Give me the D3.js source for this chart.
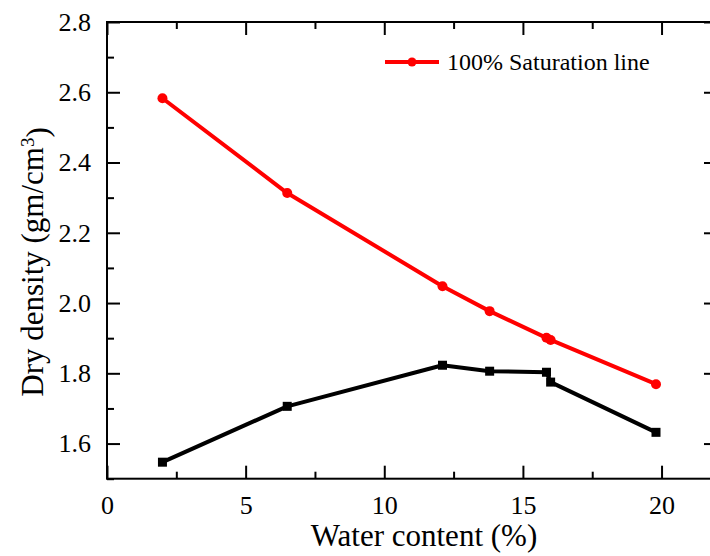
<!DOCTYPE html>
<html>
<head>
<meta charset="utf-8">
<script src="https://cdn.jsdelivr.net/npm/d3@7"></script>
<style>
  html, body { margin: 0; padding: 0; background: #fff; }
</style>
</head>
<body>
<svg id="chart" width="710" height="556"></svg>
<script>
// Water content (%) at each test point
const waterContent = [2.0, 6.5, 12.1, 13.8, 15.85, 16.0, 19.8];
// Dry density along the 100% saturation line (gm/cm3)
const saturationDensity = [2.583, 2.313, 2.048, 1.977, 1.901, 1.895, 1.769];
// Measured compaction dry density (gm/cm3)
const measuredDensity = [1.547, 1.706, 1.823, 1.806, 1.803, 1.775, 1.632];

const xMajorTicks = [0, 5, 10, 15, 20];
const xMinorTicks = [2.5, 7.5, 12.5, 17.5];
const yMajorTicks = [1.6, 1.8, 2.0, 2.2, 2.4, 2.6, 2.8];
const yMinorTicks = [1.5, 1.7, 1.9, 2.1, 2.3, 2.5, 2.7];

const legendLabel = "100% Saturation line";

const FONT = '"Liberation Serif"';

const svg = d3.select("#chart");
const plotLeft = 107, plotRight = 717, plotTop = 22, plotBottom = 478.7;

const x = d3.scaleLinear().domain([0, 22]).range([plotLeft, plotRight]);
const y = d3.scaleLinear().domain([1.5, 2.8]).range([plotBottom, plotTop]);

const major = 13, minor = 7;

function styleAxis(g) {
  g.attr("font-family", null).attr("font-size", null);
  g.select(".domain").remove();
  g.selectAll("line").attr("stroke", "#000").attr("stroke-width", 2);
  g.selectAll("text").style("font-family", FONT).style("font-size", "26px").attr("fill", "#000");
}

// bottom axis
svg.append("g").attr("transform", `translate(0,${plotBottom})`)
  .call(d3.axisBottom(x).tickValues(xMajorTicks).tickFormat(d3.format("d"))
    .tickSize(-major).tickSizeOuter(0).tickPadding(17))
  .call(styleAxis);
svg.append("g").attr("transform", `translate(0,${plotBottom})`)
  .call(d3.axisBottom(x).tickValues(xMinorTicks).tickFormat("").tickSize(-minor).tickSizeOuter(0))
  .call(styleAxis);
// top axis
svg.append("g").attr("transform", `translate(0,${plotTop})`)
  .call(d3.axisTop(x).tickValues(xMajorTicks).tickFormat("").tickSize(-major).tickSizeOuter(0))
  .call(styleAxis);
svg.append("g").attr("transform", `translate(0,${plotTop})`)
  .call(d3.axisTop(x).tickValues(xMinorTicks).tickFormat("").tickSize(-minor).tickSizeOuter(0))
  .call(styleAxis);
// left axis
svg.append("g").attr("transform", `translate(${plotLeft},0)`)
  .call(d3.axisLeft(y).tickValues(yMajorTicks).tickFormat(d3.format(".1f"))
    .tickSize(-major).tickSizeOuter(0).tickPadding(16))
  .call(styleAxis);
svg.append("g").attr("transform", `translate(${plotLeft},0)`)
  .call(d3.axisLeft(y).tickValues(yMinorTicks).tickFormat("").tickSize(-minor).tickSizeOuter(0))
  .call(styleAxis);
// right axis
svg.append("g").attr("transform", `translate(${plotRight},0)`)
  .call(d3.axisRight(y).tickValues(yMajorTicks).tickFormat("").tickSize(-major).tickSizeOuter(0))
  .call(styleAxis);
svg.append("g").attr("transform", `translate(${plotRight},0)`)
  .call(d3.axisRight(y).tickValues(yMinorTicks).tickFormat("").tickSize(-minor).tickSizeOuter(0))
  .call(styleAxis);

// frame
svg.append("rect")
  .attr("x", plotLeft).attr("y", plotTop)
  .attr("width", plotRight - plotLeft).attr("height", plotBottom - plotTop)
  .attr("fill", "none").attr("stroke", "#000").attr("stroke-width", 2);

const line = d3.line().x(d => x(d[0])).y(d => y(d[1]));

// measured curve
const measured = waterContent.map((w, i) => [w, measuredDensity[i]]);
svg.append("path").datum(measured)
  .attr("d", line).attr("fill", "none")
  .attr("stroke", "#000").attr("stroke-width", 4).attr("stroke-linejoin", "round");
const sq = 9;
svg.append("g").selectAll("rect").data(measured).join("rect")
  .attr("x", d => x(d[0]) - sq / 2).attr("y", d => y(d[1]) - sq / 2)
  .attr("width", sq).attr("height", sq).attr("fill", "#000");

// saturation line
const saturation = waterContent.map((w, i) => [w, saturationDensity[i]]);
svg.append("path").datum(saturation)
  .attr("d", line).attr("fill", "none")
  .attr("stroke", "#ff0000").attr("stroke-width", 4).attr("stroke-linejoin", "round");
svg.append("g").selectAll("circle").data(saturation).join("circle")
  .attr("cx", d => x(d[0])).attr("cy", d => y(d[1]))
  .attr("r", 5).attr("fill", "#ff0000");

// legend
const lg = svg.append("g");
lg.append("line").attr("x1", 385).attr("x2", 439).attr("y1", 62).attr("y2", 62)
  .attr("stroke", "#ff0000").attr("stroke-width", 4);
lg.append("circle").attr("cx", 412).attr("cy", 62).attr("r", 4.5).attr("fill", "#ff0000");
lg.append("text").attr("x", 447).attr("y", 70)
  .style("font-family", FONT).style("font-size", "24px").text(legendLabel);

// axis titles
svg.append("text").attr("x", 424).attr("y", 546)
  .attr("text-anchor", "middle")
  .style("font-family", FONT).style("font-size", "31px").text("Water content (%)");

const yt = svg.append("text")
  .attr("transform", "translate(43,262) rotate(-90)")
  .attr("text-anchor", "middle")
  .style("font-family", FONT).style("font-size", "31px");
yt.append("tspan").text("Dry density (gm/cm");
yt.append("tspan").attr("dy", "-0.45em").style("font-size", "19px").text("3");
yt.append("tspan").attr("dy", "0.45em").text(")");
</script>
</body>
</html>
